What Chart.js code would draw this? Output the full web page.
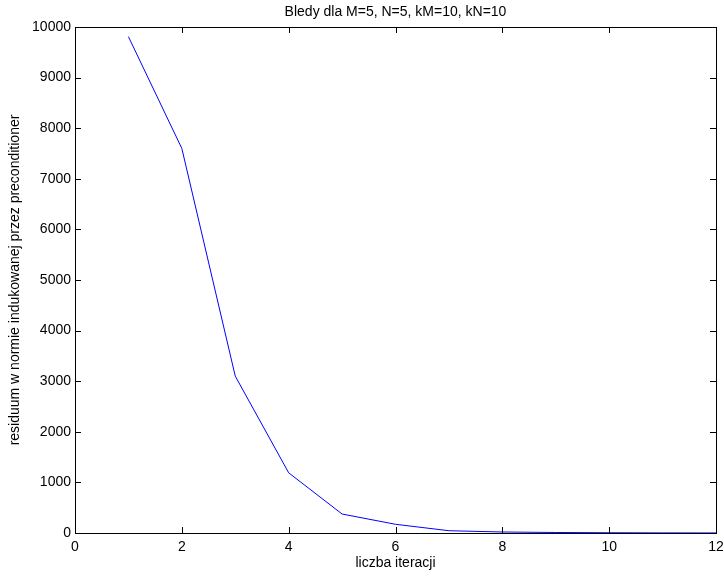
<!DOCTYPE html>
<html>
<head>
<meta charset="utf-8">
<script src="https://cdn.jsdelivr.net/npm/chart.js@4"></script>
<style>
html,body{margin:0;padding:0;background:#fff;}
canvas{display:block;}
</style>
</head>
<body>
<canvas id="c" width="724" height="577"></canvas>
<script>
const iterations = [1, 2, 3, 4, 5, 6, 7, 8, 9, 10, 11, 12];
const residuals = [9810, 7600, 3100, 1190, 375, 172, 45, 20, 10, 5, 2, 1];
const chartTitle = 'Bledy dla M=5, N=5, kM=10, kN=10';
const xTitle = 'liczba iteracji';
const yTitle = 'residuum w normie indukowanej przez preconditioner';

const FONT = "'Liberation Sans', Arial, Helvetica, sans-serif";

const boxTicks = {
  id: 'boxTicks',
  afterDatasetsDraw(chart) {
    const {ctx, chartArea: a, scales: {x, y}} = chart;
    const L = 6;
    ctx.save();
    ctx.strokeStyle = '#000';
    ctx.lineWidth = 1;
    ctx.beginPath();
    x.ticks.forEach(t => {
      const px = Math.round(x.getPixelForValue(t.value)) + 0.5;
      ctx.moveTo(px, a.bottom); ctx.lineTo(px, a.bottom - L);
      ctx.moveTo(px, a.top); ctx.lineTo(px, a.top + L);
    });
    y.ticks.forEach(t => {
      const py = Math.round(y.getPixelForValue(t.value)) + 0.5;
      ctx.moveTo(a.left, py); ctx.lineTo(a.left + L, py);
      ctx.moveTo(a.right, py); ctx.lineTo(a.right - L, py);
    });
    ctx.stroke();
    ctx.strokeRect(Math.round(a.left) + 0.5, Math.round(a.top) + 0.5,
                   Math.round(a.right - a.left), Math.round(a.bottom - a.top));
    ctx.restore();
  }
};

new Chart(document.getElementById('c'), {
  type: 'line',
  data: {
    labels: iterations,
    datasets: [{
      data: iterations.map((v, i) => ({x: v, y: residuals[i]})),
      borderColor: '#0000ff',
      borderWidth: 1,
      pointRadius: 0,
      tension: 0,
      fill: false
    }]
  },
  options: {
    responsive: false,
    devicePixelRatio: 1,
    animation: false,
    layout: {padding: {left: 0, right: 8, top: 0, bottom: 0}},
    plugins: {
      legend: {display: false},
      tooltip: {enabled: false},
      title: {
        display: true,
        text: chartTitle,
        fullSize: false,
        color: '#000',
        font: {family: FONT, size: 14, weight: 'normal', lineHeight: 1.2},
        padding: {top: 3.5, bottom: 6.7}
      }
    },
    scales: {
      x: {
        type: 'linear',
        min: 0, max: 12,
        afterFit(s) { s.height = 44; s.paddingRight = 0; s.paddingLeft = 0; },
        grid: {display: false, drawTicks: false},
        border: {display: false},
        ticks: {stepSize: 2, color: '#000', padding: 6, maxRotation: 0,
                callback: v => String(v),
                font: {family: FONT, size: 14}},
        title: {display: true, text: xTitle, color: '#000',
                font: {family: FONT, size: 14, lineHeight: 1.2},
                padding: {top: 0, bottom: 5}}
      },
      y: {
        type: 'linear',
        min: 0, max: 10000,
        afterFit(s) { s.width = 75; s.paddingTop = 0; s.paddingBottom = 0; },
        grid: {display: false, drawTicks: false},
        border: {display: false},
        ticks: {stepSize: 1000, color: '#000', padding: 4,
                callback: v => String(v),
                font: {family: FONT, size: 14}},
        title: {display: true, text: yTitle, color: '#000',
                font: {family: FONT, size: 14, lineHeight: 1.2},
                padding: {top: 6.6, bottom: 0}}
      }
    }
  },
  plugins: [boxTicks]
});
</script>
</body>
</html>
